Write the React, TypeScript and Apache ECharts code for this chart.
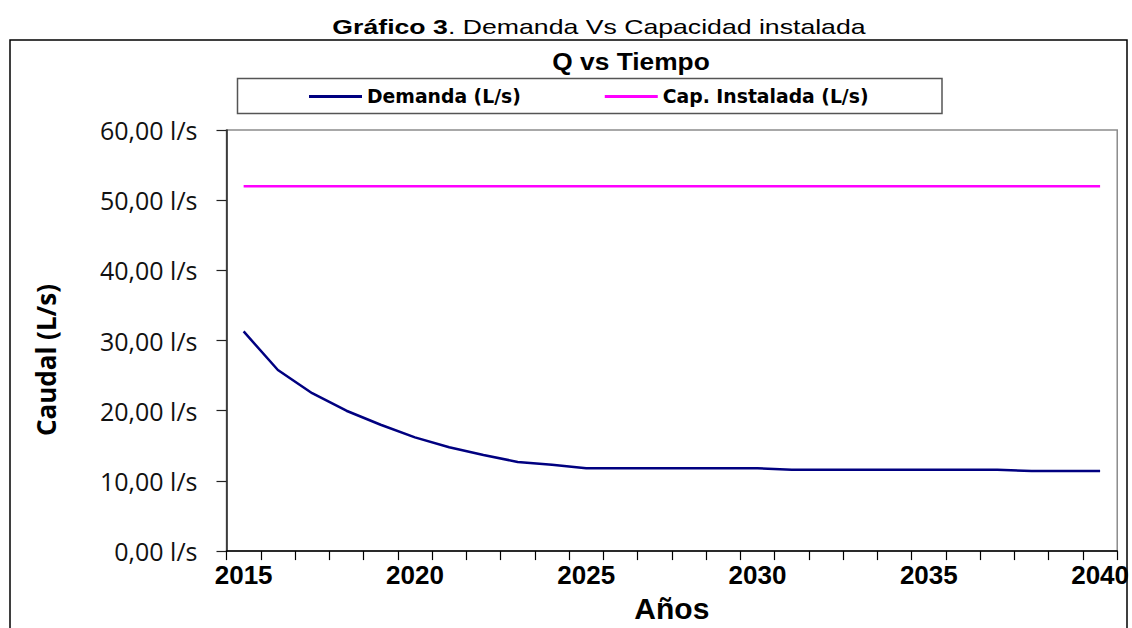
import React, { useEffect, useRef } from "react";
import * as echarts from "echarts";

const years: string[] = [
  "2015", "2016", "2017", "2018", "2019", "2020", "2021", "2022", "2023",
  "2024", "2025", "2026", "2027", "2028", "2029", "2030", "2031", "2032",
  "2033", "2034", "2035", "2036", "2037", "2038", "2039", "2040",
];

const demanda: number[] = [
  31.3, 25.8, 22.5, 20.0, 18.0, 16.2, 14.8, 13.7, 12.7, 12.3, 11.8, 11.8,
  11.8, 11.8, 11.8, 11.8, 11.6, 11.6, 11.6, 11.6, 11.6, 11.6, 11.6, 11.4,
  11.4, 11.4,
];

const capInstalada: number[] = [
  52, 52, 52, 52, 52, 52, 52, 52, 52, 52, 52, 52, 52, 52, 52, 52, 52, 52,
  52, 52, 52, 52, 52, 52, 52, 52,
];

const yTicks = { min: 0, max: 60, interval: 10 };

const ARIAL = "'Liberation Sans', Arial, sans-serif";
const WIDE = "'DejaVu Sans', sans-serif";
const CALIBRI = "'Open Sans', 'Noto Sans', sans-serif";

export default function App() {
  const ref = useRef<HTMLDivElement>(null);

  useEffect(() => {
    if (!ref.current) return;
    const chart = echarts.init(ref.current, undefined, { renderer: "svg" });
    chart.setOption({
      animation: false,
      backgroundColor: "#ffffff",
      graphic: [
        {
          type: "rect",
          shape: { x: 10, y: 40, width: 1117, height: 620 },
          style: { fill: "none", stroke: "#000", lineWidth: 1.5 },
          silent: true,
        },
        {
          type: "rect",
          shape: { x: 237.5, y: 78.5, width: 704.5, height: 35 },
          style: { fill: "none", stroke: "#555", lineWidth: 1.5 },
          silent: true,
        },
        {
          type: "text",
          x: 599,
          y: 26.5,
          scaleX: 1.3,
          style: {
            text: "{b|Gráfico 3}{n|. Demanda Vs Capacidad instalada}",
            align: "center",
            verticalAlign: "middle",
            rich: {
              b: { fontFamily: ARIAL, fontSize: 20.5, fontWeight: "bold", fill: "#000" },
              n: { fontFamily: ARIAL, fontSize: 20.5, fill: "#000" },
            },
          },
        },
        {
          type: "text",
          x: 631,
          y: 62,
          scaleX: 1.12,
          style: {
            text: "Q vs Tiempo",
            align: "center",
            verticalAlign: "middle",
            fontFamily: ARIAL,
            fontSize: 23.5,
            fontWeight: "bold",
            fill: "#000",
          },
        },
        {
          type: "text",
          x: 46,
          y: 360,
          rotation: Math.PI / 2,
          style: {
            text: "Caudal (L/s)",
            align: "center",
            verticalAlign: "middle",
            fontFamily: CALIBRI,
            fontSize: 26,
            fontWeight: "bold",
            fill: "#000",
          },
        },
      ],
      legend: {
        left: 309,
        top: 87,
        padding: 0,
        icon: "rect",
        itemWidth: 53,
        itemHeight: 3,
        itemGap: 84,
        textStyle: { fontFamily: WIDE, fontSize: 18.8, fontWeight: "bold", color: "#000" },
        data: ["Demanda (L/s)", "Cap. Instalada (L/s)"],
      },
      grid: {
        left: 226.5,
        top: 130,
        right: 14,
        bottom: 68,
        show: true,
        borderColor: "#8c8c8c",
        borderWidth: 1.5,
        containLabel: false,
      },
      xAxis: {
        type: "category",
        data: years,
        boundaryGap: true,
        name: "Años",
        nameLocation: "middle",
        nameGap: 40,
        nameTextStyle: { fontFamily: ARIAL, fontSize: 30, fontWeight: "bold", color: "#000" },
        axisLine: { lineStyle: { color: "#000", width: 1.5 } },
        axisTick: { show: true, interval: 0, length: 9, lineStyle: { color: "#000", width: 1.2 } },
        axisLabel: {
          interval: 4,
          margin: 11,
          fontFamily: ARIAL,
          fontSize: 26,
          fontWeight: "bold",
          color: "#000",
        },
        splitLine: { show: false },
      },
      yAxis: {
        type: "value",
        min: yTicks.min,
        max: yTicks.max,
        interval: yTicks.interval,
        axisLine: { show: true, lineStyle: { color: "#222", width: 1.5 } },
        axisTick: { show: true, length: 10, lineStyle: { color: "#222", width: 1.2 } },
        axisLabel: {
          margin: 29,
          fontFamily: CALIBRI,
          fontSize: 25,
          color: "#111",
          formatter: (v: number) => v.toFixed(2).replace(".", ",") + " l/s",
        },
        splitLine: { show: false },
      },
      series: [
        {
          name: "Demanda (L/s)",
          type: "line",
          data: demanda,
          symbol: "none",
          lineStyle: { color: "#000080", width: 2.5 },
          itemStyle: { color: "#000080" },
        },
        {
          name: "Cap. Instalada (L/s)",
          type: "line",
          data: capInstalada,
          symbol: "none",
          lineStyle: { color: "#ff00ff", width: 2.5 },
          itemStyle: { color: "#ff00ff" },
        },
      ],
    });
    return () => chart.dispose();
  }, []);

  return (
    <div
      ref={ref}
      style={{ position: "fixed", left: 0, top: 0, width: 1132, height: 628 }}
    />
  );
}
